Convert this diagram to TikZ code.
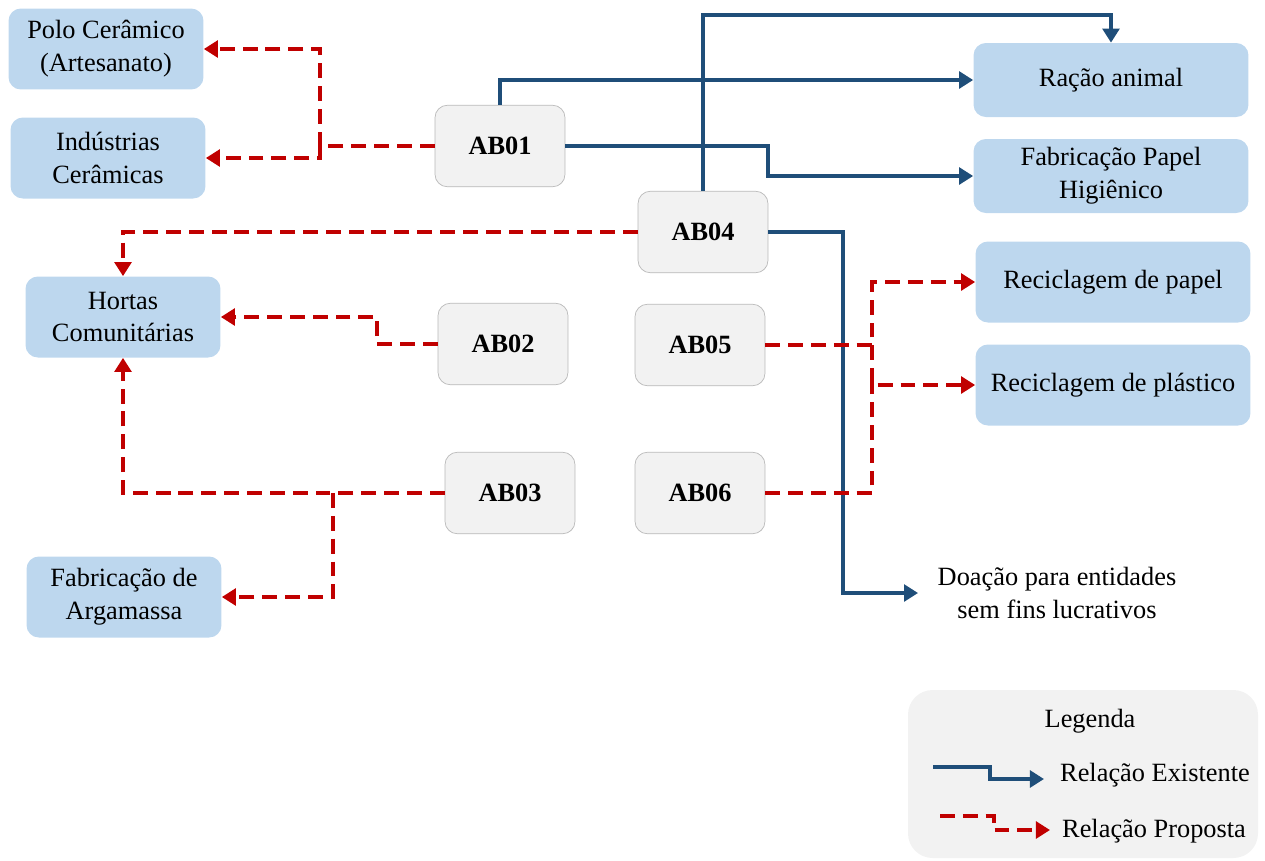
\documentclass[tikz,border=0pt]{standalone}
\usepackage{fontspec}
\setmainfont{Liberation Serif}
\usepackage{tikz}
\usetikzlibrary{arrows.meta}

\definecolor{azul}{HTML}{1F4E79}
\definecolor{vermelho}{HTML}{C00000}
\definecolor{caixaazul}{HTML}{BDD7EE}
\definecolor{caixacinza}{HTML}{F2F2F2}

\begin{document}
\begin{tikzpicture}[
  x=0.02cm, y=-0.02cm,
  font=\fontsize{15}{18.7}\selectfont,
  ab/.style={draw=gray!55, fill=caixacinza, rounded corners=7pt, minimum width=2.6cm, minimum height=1.63cm, font=\fontsize{15}{18.7}\selectfont\bfseries},
  destino/.style={fill=caixaazul, rounded corners=7pt, minimum width=3.9cm, minimum height=1.62cm, align=center},
  destinod/.style={destino, minimum width=5.5cm},
  existe/.style={-{Triangle[length=8pt,width=9.5pt]}, azul, line width=2.7pt},
  proposta/.style={-{Triangle[length=8pt,width=9.5pt]}, vermelho, line width=2.8pt, dash pattern=on 8.5pt off 4.5pt}
]
\useasboundingbox (0,0) rectangle (1265,860);

% Nodes
\node[destino] (polo) at (106,49) {Polo Cerâmico\\(Artesanato)};
\node[destino] (industrias) at (108,158) {Indústrias\\Cerâmicas};
\node[destino] (hortas) at (123,317) {Hortas\\Comunitárias};
\node[destino] (argamassa) at (124,597) {Fabricação de\\Argamassa};

\node[ab] (ab01) at (500,146) {AB01};
\node[ab] (ab04) at (703,232) {AB04};
\node[ab] (ab02) at (503,344) {AB02};
\node[ab] (ab05) at (700,345) {AB05};
\node[ab] (ab03) at (510,493) {AB03};
\node[ab] (ab06) at (700,493) {AB06};

\node[destinod, minimum height=1.48cm] (racao) at (1111,80) {Ração animal};
\node[destinod, minimum height=1.48cm] (papelhig) at (1111,176) {Fabricação Papel\\Higiênico};
\node[destinod] (recpapel) at (1113,282) {Reciclagem de papel};
\node[destinod] (recplast) at (1113,385) {Reciclagem de plástico};
\node[align=center, inner sep=1pt] (doacao) at (1057,593) {Doação para entidades\\sem fins lucrativos};

% Existing relations
\draw[existe] (ab01.north) |- (racao.west);
\draw[existe] (ab01.east) -- (768,146) |- (papelhig.west);
\draw[existe] (ab04.north) |- (1111,15) -- (racao.north);
\draw[existe] (ab04.east) -- (843,232) |- ([xshift=-10pt]doacao.west);

% Proposed relations
\draw[proposta] (ab01.west) -- (320,146) |- (polo.east);
\draw[proposta] (320,146) |- (industrias.east);
\draw[proposta] (ab04.west) -| (hortas.north);
\draw[proposta] (ab02.west) -- (377,344) |- (hortas.east);
\draw[proposta] (ab03.west) -| (hortas.south);
\draw[proposta] (333,493) |- (argamassa.east);
\draw[proposta] (ab05.east) -- (872,345) |- (recpapel.west);
\draw[proposta] (872,345) |- (recplast.west);
\draw[proposta, -] (ab06.east) -| (872,383);

% Legend
\fill[caixacinza, rounded corners=14pt] (908,690) rectangle (1258,858);
\node (legenda) at (1090,721) {Legenda};
\coordinate (lex1) at (933,767);
\coordinate (lex2) at (1044,779);
\coordinate (lpr1) at (940,816);
\coordinate (lpr2) at (1050,830);
\draw[existe] (lex1) -- (990,767) |- (lex2);
\draw[proposta] (lpr1) -- (994,816) |- (lpr2);
\node[anchor=west] (lexist) at (1054,775) {Relação Existente};
\node[anchor=west] (lprop) at (1056,831) {Relação Proposta};

\end{tikzpicture}
\end{document}
